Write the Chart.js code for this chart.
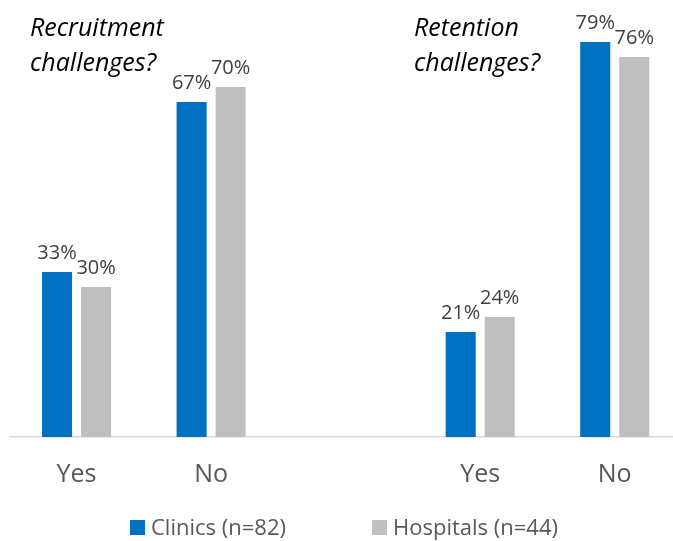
<!DOCTYPE html>
<html>
<head>
<meta charset="utf-8">
<script src="https://cdn.jsdelivr.net/npm/chart.js@4/dist/chart.umd.min.js"></script>
<style>
  html, body { margin:0; padding:0; background:#fff; overflow:hidden; width:673px; height:541px; }
  #wrap { position:absolute; left:0; top:0; width:682px; height:541px; }
  .title { position:absolute; font-family:"Open Sans", sans-serif; font-style:italic; font-size:25px; line-height:35px; color:#000; white-space:nowrap; }
  .legtxt { position:absolute; font-family:"Open Sans", sans-serif; font-size:22px; color:#595959; white-space:nowrap; line-height:30px; }
  .legbox { position:absolute; width:15px; height:15px; }
</style>
</head>
<body>
<div id="wrap"><canvas id="c"></canvas></div>
<div class="title" style="left:30px; top:9px;">Recruitment<br>challenges?</div>
<div class="title" style="left:414px; top:9px;">Retention<br>challenges?</div>
<div id="legend"></div>
<script>
const categories = ['Yes', 'No', '', 'Yes', 'No'];
const seriesNames = ['Clinics (n=82)', 'Hospitals (n=44)'];
const clinics = [33, 67, null, 21, 79];
const hospitals = [30, 70, null, 24, 76];
const seriesColors = ['#0070C0', '#BFBFBF'];

const dataLabels = {
  id: 'dataLabels',
  afterDatasetsDraw(chart) {
    const ctx = chart.ctx;
    ctx.save();
    ctx.font = '20px "Open Sans", sans-serif';
    ctx.fillStyle = '#404040';
    ctx.textAlign = 'center';
    ctx.textBaseline = 'alphabetic';
    chart.data.datasets.forEach((ds, i) => {
      chart.getDatasetMeta(i).data.forEach((bar, j) => {
        const v = ds.data[j];
        if (v == null) return;
        ctx.fillText(v + '%', bar.x, bar.y - 13);
      });
    });
    ctx.restore();
  }
};

new Chart(document.getElementById('c'), {
  type: 'bar',
  data: {
    labels: categories,
    datasets: [
      { label: seriesNames[0], data: clinics, backgroundColor: seriesColors[0] },
      { label: seriesNames[1], data: hospitals, backgroundColor: seriesColors[1] }
    ]
  },
  options: {
    responsive: true,
    maintainAspectRatio: false,
    animation: false,
    categoryPercentage: 0.58,
    barPercentage: 0.77,
    layout: { padding: { left: 9.3, right: 0, top: 37, bottom: 44 } },
    plugins: { legend: { display: false }, tooltip: { enabled: false } },
    scales: {
      x: {
        grid: { display: false, drawTicks: false },
        border: { display: true, color: '#D9D9D9', width: 1.5 },
        ticks: { color: '#595959', font: { family: '"Open Sans"', size: 25 }, padding: 23, maxRotation: 0 },
        afterFit(s) { s.height = 60; }
      },
      y: { display: false, min: 0, max: 80 }
    }
  },
  plugins: [dataLabels]
});

const legendEl = document.getElementById('legend');
const legendBoxX = [130, 372];
const legendTextX = [151, 393];
seriesNames.forEach((n, i) => {
  const b = document.createElement('div');
  b.className = 'legbox';
  b.style.left = legendBoxX[i] + 'px';
  b.style.top = '520px';
  b.style.background = seriesColors[i];
  legendEl.appendChild(b);
  const t = document.createElement('div');
  t.className = 'legtxt';
  t.style.left = legendTextX[i] + 'px';
  t.style.top = '511px';
  t.textContent = n;
  legendEl.appendChild(t);
});
</script>
</body>
</html>
